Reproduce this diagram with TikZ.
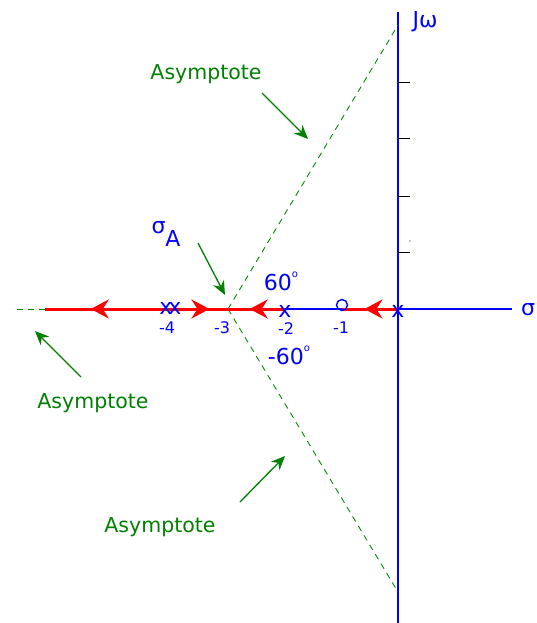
\documentclass[tikz,border=0pt]{standalone}
\usepackage{fontspec}
\setmainfont{DejaVu Sans}
\usetikzlibrary{arrows.meta, positioning, decorations.markings}
\tikzset{
    axis/.style={draw=blue, line width=1.6pt},
    locus/.style={draw=red, line width=3pt},
    asym/.style={draw=green!55!black, dash pattern=on 6pt off 5pt, line width=0.9pt},
    pointer/.style={-{Stealth[length=14pt, width=12pt]}, draw=green!50!black, fill=green!50!black, line width=1.3pt},
    note/.style={text=green!50!black, font=\fontsize{20.5}{22}\selectfont},
    axlabel/.style={text=blue, font=\fontsize{16}{18}\selectfont, inner sep=1pt},
    biglabel/.style={text=blue, font=\fontsize{22}{24}\selectfont},
    pole/.style={text=blue, font=\fontsize{22}{22}\selectfont, inner sep=0pt},
    tickmark/.style={draw=black, line width=0.8pt},
    arrowat/.style={postaction={decorate}, decoration={markings, mark=at position #1 with {\arrow{Stealth[length=18pt, width=19pt, inset=6pt]}}}}
}

\begin{document}
\begin{tikzpicture}[x=1pt, y=-1pt]
        	\useasboundingbox (0,0) rectangle (536,623);
        	% points on the real axis
        	\coordinate (s0) at (398,309);
        	\coordinate (s1) at (342,309);
        	\coordinate (s2) at (285,309);
        	\coordinate (s3) at (228,309);
        	\coordinate (s4) at (170,309);
        	\coordinate (lend) at (45,309);
        	\coordinate (rend) at (512,309);
        	\coordinate (top) at (398,12);
        	\coordinate (bot) at (398,623);
        	
        	% axes
        	\draw[axis] (lend) -- (rend);
        	\draw[axis] (bot) -- (top);
        	\foreach \yy in {82,138,196,252}
        		\draw[tickmark] (398,\yy) -- (410,\yy);
        	\fill (410,241) circle (0.7pt);
        	
        	% asymptotes
        	\coordinate (up) at (398,25);
        	\coordinate (dn) at (398,592);
        	\coordinate (far) at (12,309);
        	\draw[asym] (s3) -- (up);
        	\draw[asym] (s3) -- (dn);
        	\draw[asym] (lend) -- (far);
        	
        	% root locus branches
        	\draw[locus, arrowat=0.75] (s3) -- (lend);
        	\draw[locus, arrowat=0.68] (s4) -- (s3);
        	\draw[locus, arrowat=0.62] (s2) -- (s3);
        	\draw[locus, arrowat=0.6] (s0) -- (s1);
        	
        	% poles and zero
        	\node[pole] (x0) at (398,311) {x};
        	\node[pole] (x2) at (285,311) {x};
        	\node[pole] (x4a) at (166,308) {x};
        	\node[pole] (x4b) at (175,308) {x};
        	\node[circle, draw=blue, line width=1.4pt, minimum size=11pt, inner sep=0pt] (z1) at (342,305) {};
        	
        	% axis values
        	\node[axlabel] (l4) at (167,328) {-4};
        	\node[axlabel] (l3) at (222,328) {-3};
        	\node[axlabel] (l2) at (286,329) {-2};
        	\node[axlabel] (l1) at (341,328) {-1};
        	\node[biglabel] (jw) at (425,22) {Jω};
        	\node[biglabel, inner sep=0pt] (sig) at (528,310) {σ};
        	\node[biglabel] (sA) at (166,234) {σ\raisebox{-0.6em}{A}};
        	\node[biglabel] (ang1) at (281,281) {60\raisebox{0.6em}{\fontsize{10}{10}\selectfont o}};
        	\node[biglabel] (ang2) at (289,355) {-60\raisebox{0.6em}{\fontsize{10}{10}\selectfont o}};
        	
        	% notes
        	\node[note] (n1) at (206,74) {Asymptote};
        	\node[note] (n2) at (93,403) {Asymptote};
        	\node[note] (n3) at (160,527) {Asymptote};
        	\coordinate (a1) at (262,93);
        	\coordinate (a2) at (81,377);
        	\coordinate (a3) at (240,502);
        	\coordinate (a4) at (198,243);
        	\draw[pointer] (a1) -- (308,139);
        	\draw[pointer] (a2) -- (35,331);
        	\draw[pointer] (a3) -- (285,456);
        	\draw[pointer] (a4) -- (225,295);
        	
        \end{tikzpicture}
\end{document}
